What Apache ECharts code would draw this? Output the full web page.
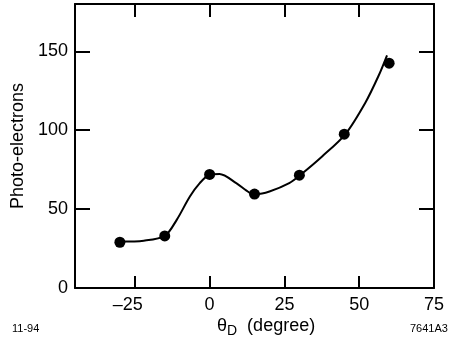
<!DOCTYPE html>
<html>
<head>
<meta charset="utf-8">
<script src="https://cdn.jsdelivr.net/npm/echarts@6/dist/echarts.min.js"></script>
<style>
  html, body { margin: 0; padding: 0; background: #fff; }
  #chart { width: 464px; height: 358px; }
</style>
</head>
<body>
<div id="chart"></div>
<script>
// measured points
var angles = [-30, -15, 0, 15, 30, 45, 60];
var electrons = [29, 33, 72, 59.5, 71.5, 97.5, 142.5];

// fitted curve
var curveX = [-30, -22, -15, -11, -6.6, -3.3, 0, 3.3, 8.9, 13.3, 15.5, 20, 26.6, 30.4, 37.6, 45.4, 52, 56.4, 59.3];
var curveY = [29.4, 30, 33, 43.2, 58, 66.5, 71.8, 72.2, 66.5, 60.5, 59.5, 61.2, 66.5, 71.8, 83.4, 97.6, 117.3, 134.2, 147.5];

var xTicks = [-25, 0, 25, 50, 75];
var yTicks = [0, 50, 100, 150];

var FONT = 'Liberation Sans, Arial, sans-serif';

var myChart = echarts.init(document.getElementById('chart'), null, { renderer: 'canvas' });

function pairs(xs, ys) {
    var out = [];
    for (var i = 0; i < xs.length; i++) {
        out.push([xs[i], ys[i]]);
    }
    return out;
}

var axisLine = { onZero: false, lineStyle: { color: '#000', width: 2 } };

var option = {
    animation: false,
    grid: { left: 75, right: 30, top: 4, bottom: 70 },
    xAxis: [
        {
            type: 'value', min: -45, max: 75, interval: 25,
            axisLine: axisLine,
            axisTick: { inside: true, length: 12, lineStyle: { color: '#000', width: 2 },
                customValues: xTicks },
            axisLabel: {
                color: '#000', fontSize: 18, fontFamily: FONT, margin: 8,
                customValues: xTicks,
                formatter: function (v) {
                    return v < 0 ? '{n|\u2013' + (-v) + '}' : '' + v;
                },
                rich: { n: { fontSize: 18, fontFamily: FONT, color: '#000', padding: [0, 14, 0, 0] } }
            },
            splitLine: { show: false }
        },
        {
            type: 'value', position: 'top', min: -45, max: 75, interval: 25,
            axisLine: axisLine,
            axisTick: { inside: true, length: 13, lineStyle: { color: '#000', width: 2 },
                customValues: xTicks },
            axisLabel: { show: false },
            splitLine: { show: false }
        }
    ],
    yAxis: [
        {
            type: 'value', min: 0, max: 180, interval: 50,
            axisLine: axisLine,
            axisTick: { inside: true, length: 15, lineStyle: { color: '#000', width: 2 },
                customValues: yTicks },
            axisLabel: { color: '#000', fontSize: 18, fontFamily: FONT, margin: 7,
                customValues: yTicks },
            splitLine: { show: false },
            name: 'Photo-electrons',
            nameLocation: 'middle',
            nameRotate: 90,
            nameGap: 44,
            nameTextStyle: { color: '#000', fontSize: 18, fontFamily: FONT }
        },
        {
            type: 'value', position: 'right', min: 0, max: 180, interval: 50,
            axisLine: axisLine,
            axisTick: { inside: true, length: 15, lineStyle: { color: '#000', width: 2 },
                customValues: yTicks },
            axisLabel: { show: false },
            splitLine: { show: false }
        }
    ],
    graphic: [
        {
            type: 'text', left: 217, top: 317,
            style: {
                text: '{t|\u03B8}{s|D}{t|  (degree)}',
                rich: {
                    t: { fontSize: 18, fontFamily: FONT, fill: '#000' },
                    s: { fontSize: 14, fontFamily: FONT, fill: '#000', padding: [10, 0, 0, 0] }
                }
            }
        },
        {
            type: 'text', left: 12, top: 323,
            style: { text: '11-94', fontSize: 11, fontFamily: FONT, fill: '#000' }
        },
        {
            type: 'text', left: 410, top: 323,
            style: { text: '7641A3', fontSize: 11, fontFamily: FONT, fill: '#000' }
        }
    ],
    series: [
        {
            type: 'line',
            data: pairs(curveX, curveY),
            smooth: 0.3,
            showSymbol: false,
            symbol: 'none',
            lineStyle: { color: '#000', width: 2 },
            z: 2
        },
        {
            type: 'scatter',
            data: pairs(angles, electrons),
            symbol: 'circle',
            symbolSize: 11,
            itemStyle: { color: '#000', opacity: 1 },
            z: 3
        }
    ]
};

myChart.setOption(option);
</script>
</body>
</html>
